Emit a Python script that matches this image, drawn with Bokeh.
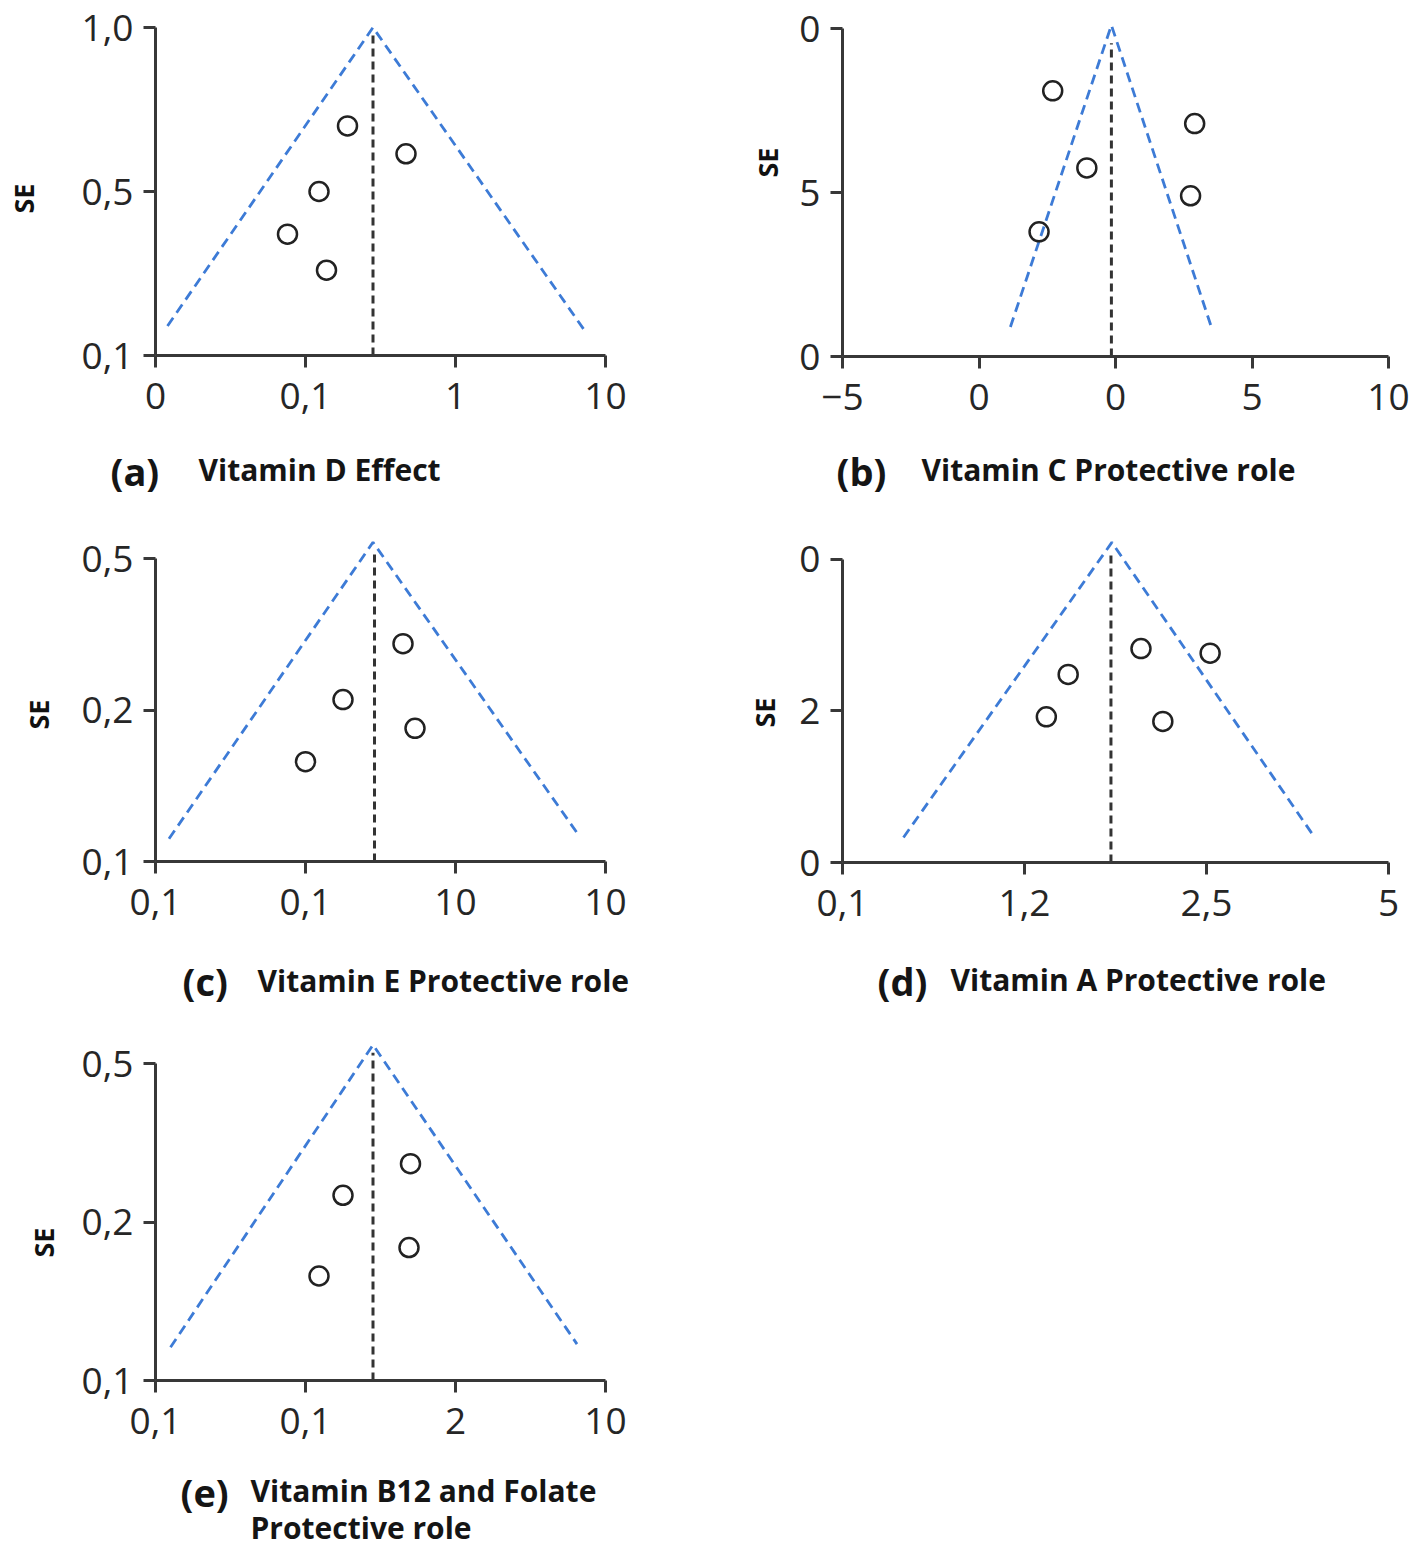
import numpy as np
from bokeh.plotting import figure
from bokeh.models import Range1d, FixedTicker
from bokeh.layouts import column, row
from bokeh.embed import file_html
from bokeh.resources import INLINE
from bokeh.core.properties import value

# ---------------- data (positions in tick-index units of each panel's axes) ----------------
# (a) Vitamin D Effect
a_xticks = ["0", "0,1", "1", "10"]
a_yticks = ["0,1", "0,5", "1,0"]
a_effect = [1.28, 1.67, 1.09, 0.88, 1.14]
a_se = [1.40, 1.23, 1.00, 0.74, 0.52]
a_funnel_x = [0.08, 1.45, 2.87]
a_funnel_y = [0.18, 2.00, 0.14]
a_pooled = 1.45
a_pooled_top = 1.97
a_caption = ["(a)", "Vitamin D Effect"]

# (b) Vitamin C Protective role
b_xticks = ["\u22125", "0", "0", "5", "10"]
b_yticks = ["0", "5", "0"]
b_effect = [1.54, 2.58, 1.79, 2.55, 1.44]
b_se = [1.62, 1.42, 1.15, 0.98, 0.76]
b_funnel_x = [1.23, 1.97, 2.71]
b_funnel_y = [0.18, 2.02, 0.16]
b_pooled = 1.97
b_pooled_top = 1.91
b_caption = ["(b)", "Vitamin C Protective role"]

# (c) Vitamin E Protective role
c_xticks = ["0,1", "0,1", "10", "10"]
c_yticks = ["0,1", "0,2", "0,5"]
c_effect = [1.65, 1.25, 1.73, 1.00]
c_se = [1.44, 1.07, 0.88, 0.66]
c_funnel_x = [0.09, 1.45, 2.81]
c_funnel_y = [0.15, 2.11, 0.19]
c_pooled = 1.46
c_pooled_top = 2.05
c_caption = ["(c)", "Vitamin E Protective role"]

# (d) Vitamin A Protective role
d_xticks = ["0,1", "1,2", "2,5", "5"]
d_yticks = ["0", "2", "0"]
d_effect = [1.64, 2.02, 1.24, 1.12, 1.76]
d_se = [1.41, 1.38, 1.24, 0.96, 0.93]
d_funnel_x = [0.335, 1.48, 2.58]
d_funnel_y = [0.165, 2.11, 0.19]
d_pooled = 1.475
d_pooled_top = 2.03
d_caption = ["(d)", "Vitamin A Protective role"]

# (e) Vitamin B12 and Folate Protective role
e_xticks = ["0,1", "0,1", "2", "10"]
e_yticks = ["0,1", "0,2", "0,5"]
e_effect = [1.70, 1.25, 1.69, 1.09]
e_se = [1.37, 1.17, 0.84, 0.66]
e_funnel_x = [0.10, 1.45, 2.81]
e_funnel_y = [0.21, 2.12, 0.23]
e_pooled = 1.45
e_pooled_top = 2.07
e_caption = ["(e)", "Vitamin B12 and Folate", "Protective role"]

AXIS_COLOR = "#383838"
FONT = "Open Sans"


def blank(width, height):
    f = figure(width=width, height=height, x_range=Range1d(0, width), y_range=Range1d(0, height),
               output_backend="svg", toolbar_location=None,
               x_axis_type=None, y_axis_type=None,
               min_border_left=0, min_border_right=0, min_border_top=0, min_border_bottom=0)
    f.grid.visible = False
    f.outline_line_color = None
    f.background_fill_color = "white"
    f.border_fill_color = "white"
    f.frame_align = False
    return f


def panel(box, y_cap, strip_w, frame_left, frame_bottom, frame_top, ppux, ppuy,
          xticks, yticks, xs, ys, fx, fy, pooled, pooled_top, se_pos, captions):
    x0, y0, x1, y1 = box
    W = x1 - x0
    H = y_cap - y0
    PW = W - strip_w
    nx = len(xticks) - 1
    frame_right = frame_left + nx * ppux
    left_b = int(round(frame_left - x0 - strip_w))
    right_b = int(round(x1 - frame_right))
    top_b = int(round(frame_top - y0))
    bottom_b = int(round(y_cap - frame_bottom))
    fw = PW - left_b - right_b
    fh = H - top_b - bottom_b

    p = figure(width=PW, height=H, x_range=Range1d(0, fw / ppux), y_range=Range1d(0, fh / ppuy),
               output_backend="svg", toolbar_location=None,
               min_border_left=left_b, min_border_right=right_b,
               min_border_top=top_b, min_border_bottom=bottom_b)
    p.frame_align = False
    p.grid.visible = False
    p.outline_line_color = None
    p.background_fill_color = "white"
    p.border_fill_color = "white"

    p.xaxis.ticker = FixedTicker(ticks=list(range(nx + 1)))
    p.xaxis.major_label_overrides = {i: t for i, t in enumerate(xticks)}
    p.xaxis.bounds = (0, nx)
    p.yaxis.ticker = FixedTicker(ticks=[0, 1, 2])
    p.yaxis.major_label_overrides = {i: t for i, t in enumerate(yticks)}
    p.yaxis.bounds = (0, 2)
    for ax in (p.xaxis[0], p.yaxis[0]):
        ax.axis_line_color = AXIS_COLOR
        ax.axis_line_width = 3
        ax.major_tick_line_color = AXIS_COLOR
        ax.major_tick_line_width = 3
        ax.major_tick_out = 12
        ax.major_tick_in = 0
        ax.minor_tick_line_color = None
        ax.major_label_text_font = FONT
        ax.major_label_text_font_size = "37px"
        ax.major_label_text_color = "#262626"
    p.xaxis.major_label_standoff = 15
    p.yaxis.major_label_standoff = 10

    p.line(fx, fy, line_color="#3d7bd6", line_width=2.8, line_dash="10 6")
    p.line([pooled, pooled], [0, pooled_top], line_color="#333333", line_width=3, line_dash="8 5")
    p.scatter(xs, ys, marker="circle", size=19, fill_color=None,
              line_color="#222222", line_width=2.5)

    # "SE" strip to the left of the plot
    s = blank(strip_w, H)
    s.text(x=[se_pos[0] - x0], y=[H - (se_pos[1] - y0)], text=["SE"], angle=np.pi / 2,
           text_align="center", text_baseline="middle", text_font=value(FONT),
           text_font_style="bold", text_font_size="27px", text_color="#111111")

    # caption strip below the plot
    CH = y1 - y_cap
    c = blank(W, CH)
    for text, px, py, size, style in captions:
        c.text(x=[px - x0], y=[CH - (py - y_cap)], text=[text], text_align="left",
               text_baseline="middle", text_font=value(FONT), text_font_style=style,
               text_font_size=size, text_color="#151515")
    return column(row(s, p), c)


pa = panel((0, 0, 698, 510), 440, 72, 155, 355, 19, 150, 164,
           a_xticks, a_yticks, a_effect, a_se, a_funnel_x, a_funnel_y, a_pooled, a_pooled_top,
           (23, 198),
           [(a_caption[0], 110, 470, "38px", "bold"),
            (a_caption[1], 198, 469, "30px", "bold")])

pb = panel((698, 0, 1416, 510), 440, 95, 842, 356, 19, 136.5, 164,
           b_xticks, b_yticks, b_effect, b_se, b_funnel_x, b_funnel_y, b_pooled, b_pooled_top,
           (767, 162),
           [(b_caption[0], 836, 470, "38px", "bold"),
            (b_caption[1], 921, 469, "30px", "bold")])

pc = panel((0, 510, 698, 1022), 942, 72, 155, 861, 532, 150, 151.3,
           c_xticks, c_yticks, c_effect, c_se, c_funnel_x, c_funnel_y, c_pooled, c_pooled_top,
           (38, 714),
           [(c_caption[0], 182, 980, "38px", "bold"),
            (c_caption[1], 257, 980, "30px", "bold")])

pd_ = panel((698, 510, 1416, 1022), 942, 95, 842, 862, 532, 182, 151.7,
            d_xticks, d_yticks, d_effect, d_se, d_funnel_x, d_funnel_y, d_pooled, d_pooled_top,
            (764, 712),
            [(d_caption[0], 877, 980, "38px", "bold"),
             (d_caption[1], 950, 979, "30px", "bold")])

pe = panel((0, 1022, 698, 1547), 1462, 72, 155, 1380, 1036, 150, 158.3,
           e_xticks, e_yticks, e_effect, e_se, e_funnel_x, e_funnel_y, e_pooled, e_pooled_top,
           (43, 1242),
           [(e_caption[0], 180, 1491, "38px", "bold"),
            (e_caption[1], 250, 1490, "30px", "bold"),
            (e_caption[2], 250, 1527, "30px", "bold")])

layout = column(row(pa, pb), row(pc, pd_), row(pe))
open("out.html", "w").write(file_html(layout, INLINE))
